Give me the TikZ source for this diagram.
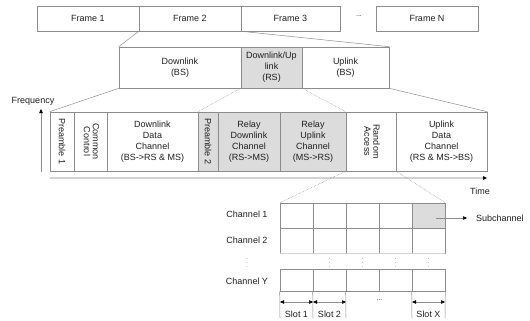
\documentclass[tikz,border=0pt]{standalone}
\usepackage{fontspec}
\setmainfont{Liberation Sans}
\usetikzlibrary{arrows.meta}
\definecolor{linegray}{HTML}{8C8C8C}
\definecolor{fillgray}{HTML}{DCDCDC}
\definecolor{axisgray}{HTML}{D2D2D2}
\definecolor{txt}{HTML}{1E1E1E}
\begin{document}
\begin{tikzpicture}[x=1pt,y=-1pt,
  box/.style={draw=linegray, line width=0.6pt, inner sep=0pt, align=center, text=txt,
    font=\fontsize{9}{11}\selectfont},
  grayfill/.style={fill=fillgray},
  conn/.style={draw=linegray, line width=0.5pt},
  dotconn/.style={draw=linegray, line width=0.5pt, densely dotted},
  lbl/.style={inner sep=0pt, text=txt, font=\fontsize{9}{11}\selectfont},
  vd/.style={inner sep=0pt, text=txt, font=\fontsize{5}{6}\selectfont},
  tip/.style={-{Triangle[length=4pt,width=3.5pt,color=black]}},
  dtip/.style={{Triangle[length=4pt,width=3.5pt,color=black]}-{Triangle[length=4pt,width=3.5pt,color=black]}},
  gcell/.style={box, minimum width=33, minimum height=25},
]
\useasboundingbox (0,0) rectangle (530,321);

% ---- frame row
\node[box, minimum width=102, minimum height=25] (f1) at (88,18.5) {Frame 1};
\node[box, minimum width=102, minimum height=25] (f2) at (190,18.5) {Frame 2};
\node[box, minimum width=99, minimum height=25] (f3) at (290.5,18.5) {Frame 3};
\node[lbl, font=\fontsize{7}{8}\selectfont] (fdots) at (359,16) {...};
\node[box, minimum width=102, minimum height=25] (fN) at (427,18.5) {Frame N};

% ---- sub-frame row
\node[box, minimum width=122, minimum height=41] (dl) at (180,67.5) {Downlink\\(BS)};
\node[box, grayfill, minimum width=61, minimum height=41] (dul) at (271.5,67.5) {Downlink/Up\\link\\(RS)};
\node[box, minimum width=87, minimum height=41] (ul) at (345.5,67.5) {Uplink\\(BS)};

\draw[conn] (f2.south west) -- (dl.north west);
\draw[conn] (f2.south east) -- (ul.north east);

% ---- detailed frame
\node[box, minimum width=24, minimum height=59] (p1) at (62,141.5) {\rotatebox{-90}{Preamble 1}};
\node[box, minimum width=33, minimum height=59] (cc) at (90.5,141.5)
  {\rotatebox{-90}{\begin{tabular}{@{}c@{}}Common\\[-2pt]Control\end{tabular}}};
\node[box, minimum width=91, minimum height=59] (ddc) at (152.5,141.5) {Downlink\\Data\\Channel\\(BS->RS \& MS)};
\node[box, grayfill, minimum width=20, minimum height=59] (p2) at (208,141.5) {\rotatebox{-90}{Preamble 2}};
\node[box, grayfill, minimum width=62, minimum height=59] (rdc) at (249,141.5) {Relay\\Downlink\\Channel\\(RS->MS)};
\node[box, grayfill, minimum width=66, minimum height=59] (ruc) at (313,141.5) {Relay\\Uplink\\Channel\\(MS->RS)};
\node[box, minimum width=50, minimum height=59] (ra) at (371,141.5)
  {\rotatebox{-90}{\begin{tabular}{@{}c@{}}Random\\[-2pt]Access\end{tabular}}};
\node[box, minimum width=91, minimum height=59] (udc) at (441.5,141.5) {Uplink\\Data\\Channel\\(RS \& MS->BS)};

\draw[conn] (dl.south west) -- (p1.north west);
\draw[dotconn] (dul.south west) -- (p2.north west);
\draw[dotconn] (dul.south east) -- (ra.north west);
\draw[conn] (ul.south east) -- (udc.north east);

% ---- axes
\coordinate (fbot) at (41,172);
\coordinate (ftop) at (41,109);
\draw[draw=linegray, line width=0.5pt, tip] (fbot) -- (ftop);
\node[lbl] (freq) at (33,101) {Frequency};
\coordinate (tl) at (50,178);
\coordinate (tr) at (487,178);
\draw[draw=axisgray, line width=1.5pt, tip] (tl) -- (tr);
\node[lbl] (time) at (480,191) {Time};

% ---- channel grid
\foreach \i/\x in {1/296.5, 2/329.5, 3/362.5, 4/395.5, 5/428.5} {
  \node[gcell] (a\i) at (\x,215.5) {};
  \node[gcell] (b\i) at (\x,240.5) {};
  \node[gcell, minimum height=22] (y\i) at (\x,280) {};
}
\node[gcell, grayfill] at (a5) {};
\draw[draw=axisgray, line width=1.2pt] (b1.south west) -- (b5.south east);

\draw[dotconn] (ra.south west) -- (a1.north west);
\draw[dotconn] (ra.south east) -- (a5.north east);

\node[lbl] (ch1) at (247,214) {Channel 1};
\node[lbl] (ch2) at (247,240) {Channel 2};
\node[vd] (chv) at (247,260) {$\vdots$};
\node[lbl] (chY) at (247,281) {Channel Y};
\foreach \i in {2,3,4,5} {
  \node[vd] (v\i) at (b\i.south |- chv) {$\vdots$};
}

% subchannel
\coordinate (sstart) at (436,218);
\coordinate (stip) at (467,218);
\draw[draw=linegray, line width=0.5pt, tip] (sstart) -- (stip);
\node[lbl, anchor=west] (sub) at (476,218) {Subchannel};

% slots
\foreach \n/\x in {k1/280, k2/313, k3/346, k5/412, k6/445} {
  \coordinate (\n) at (\x,318);
  \coordinate (s\n) at (\x,302);
}
\draw[conn] (y1.south west) -- (k1);
\draw[conn] (y2.south west) -- (k2);
\draw[conn] (y3.south west) -- (k3);
\draw[conn] (y5.south west) -- (k5);
\draw[conn] (y5.south east) -- (k6);
\draw[draw=linegray, line width=0.5pt, dtip] (sk1) -- (sk2);
\draw[draw=linegray, line width=0.5pt, dtip] (sk2) -- (sk3);
\draw[draw=linegray, line width=0.5pt, dtip] (sk5) -- (sk6);
\node[lbl, font=\fontsize{7}{8}\selectfont] (sdots) at (379.5,300) {...};
\node[lbl] (sl1) at (296.5,314.5) {Slot 1};
\node[lbl] (sl2) at (329.5,314.5) {Slot 2};
\node[lbl] (slX) at (428.5,314.5) {Slot X};
\end{tikzpicture}
\end{document}
